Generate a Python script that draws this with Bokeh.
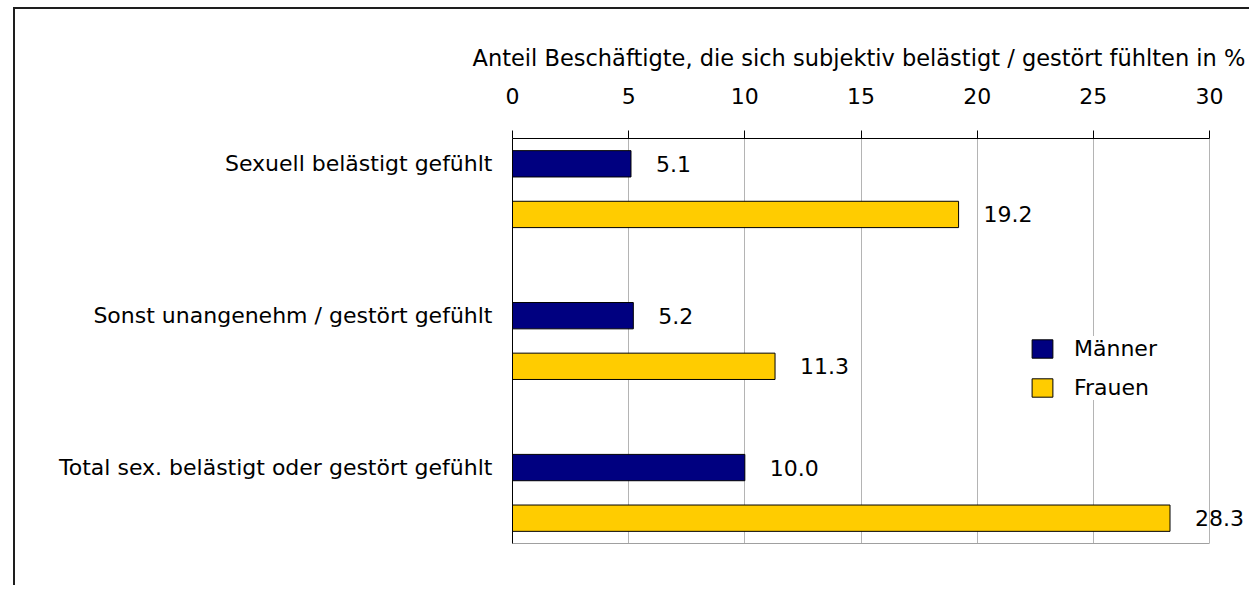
from bokeh.plotting import figure
from bokeh.models import Range1d, FixedTicker, ColumnDataSource, LabelSet, LinearAxis
from bokeh.core.properties import value
from bokeh.embed import file_html
from bokeh.resources import INLINE

# ---- data ----
categories = ["Sexuell belästigt gefühlt",
              "Sonst unangenehm / gestört gefühlt",
              "Total sex. belästigt oder gestört gefühlt"]
maenner = [5.1, 5.2, 10.0]
frauen = [19.2, 11.3, 28.3]
series_names = ["Männer", "Frauen"]
x_ticks = [0, 5, 10, 15, 20, 25, 30]
x_title = "Anteil Beschäftigte, die sich subjektiv belästigt / gestört fühlten in %"

FONT = "DejaVu Sans"
FS = "22px"

m_pos = [3 * i for i in range(len(categories))]
f_pos = [3 * i + 1 for i in range(len(categories))]

src_m = ColumnDataSource(dict(y=m_pos, v=maenner, lab=[f"{v:.1f}" for v in maenner]))
src_f = ColumnDataSource(dict(y=f_pos, v=frauen, lab=[f"{v:.1f}" for v in frauen]))

# frame extends to the right edge so the value labels are not clipped;
# the visible scale box is 0..30 (697 px of a 739 px frame)
X_END = 30 * 739 / 697

p = figure(width=1236, height=578,
           x_range=Range1d(0, X_END), y_range=Range1d(7.5, -0.5),
           x_axis_location="above", title=x_title,
           output_backend="svg", toolbar_location=None,
           min_border_left=497, min_border_right=0,
           min_border_top=129, min_border_bottom=44)
p.styles = {"margin-left": "13px", "margin-top": "7px",
            "border-left": "2px solid #1e1e1e",
            "border-top": "2px solid #1e1e1e"}

p.title.align = "left"
p.title.offset = -40
p.title.standoff = 28
p.title.text_font = FONT
p.title.text_font_size = "22.5px"
p.title.text_font_style = "normal"
p.title.text_color = "#000000"

p.outline_line_color = None
p.ygrid.visible = False
p.xgrid.ticker = FixedTicker(ticks=x_ticks)
p.xgrid.grid_line_color = "#b4b4b4"
p.xgrid.grid_line_width = 1

p.hbar(y="y", right="v", left=0, height=0.52, source=src_m,
       fill_color="#000080", line_color="#000000", line_width=1,
       legend_label=series_names[0])
p.hbar(y="y", right="v", left=0, height=0.52, source=src_f,
       fill_color="#FFCC00", line_color="#000000", line_width=1,
       legend_label=series_names[1])

for s in (src_m, src_f):
    p.add_layout(LabelSet(x="v", y="y", text="lab", source=s, x_offset=25,
                          text_align="left", text_baseline="middle",
                          text_font=value(FONT), text_font_size=value(FS),
                          text_color="#000000"))

xa = p.xaxis[0]
xa.bounds = (0, 30)
xa.ticker = FixedTicker(ticks=x_ticks)
xa.major_label_text_font = FONT
xa.major_label_text_font_size = FS
xa.major_label_text_color = "#000000"
xa.major_label_standoff = 27
xa.major_tick_out = 8
xa.major_tick_in = 0
xa.minor_tick_out = 0
xa.minor_tick_in = 0
xa.axis_line_color = "#000000"
xa.major_tick_line_color = "#000000"

# bottom edge of the scale box
xb = LinearAxis(bounds=(0, 30), ticker=FixedTicker(ticks=[]),
                major_label_text_font_size="0px",
                major_tick_out=0, major_tick_in=0,
                minor_tick_out=0, minor_tick_in=0,
                axis_line_color="#a0a0a0", axis_line_width=1)
p.add_layout(xb, "below")

ya = p.yaxis[0]
ya.ticker = FixedTicker(ticks=m_pos)
ya.major_label_overrides = {pos: c for pos, c in zip(m_pos, categories)}
ya.major_label_text_font = FONT
ya.major_label_text_font_size = FS
ya.major_label_text_color = "#000000"
ya.major_label_standoff = 20
ya.major_tick_out = 0
ya.major_tick_in = 0
ya.minor_tick_out = 0
ya.minor_tick_in = 0
ya.axis_line_color = "#000000"

lg = p.legend[0]
lg.location = (517, 143)
lg.border_line_color = None
lg.background_fill_color = "#ffffff"
lg.background_fill_alpha = 1.0
lg.padding = 9
lg.margin = 0
lg.spacing = 14
lg.glyph_width = 26
lg.glyph_height = 23
lg.label_standoff = 19
lg.label_text_font = FONT
lg.label_text_font_size = FS
lg.label_text_color = "#000000"

open("out.html", "w").write(file_html(p, INLINE))
